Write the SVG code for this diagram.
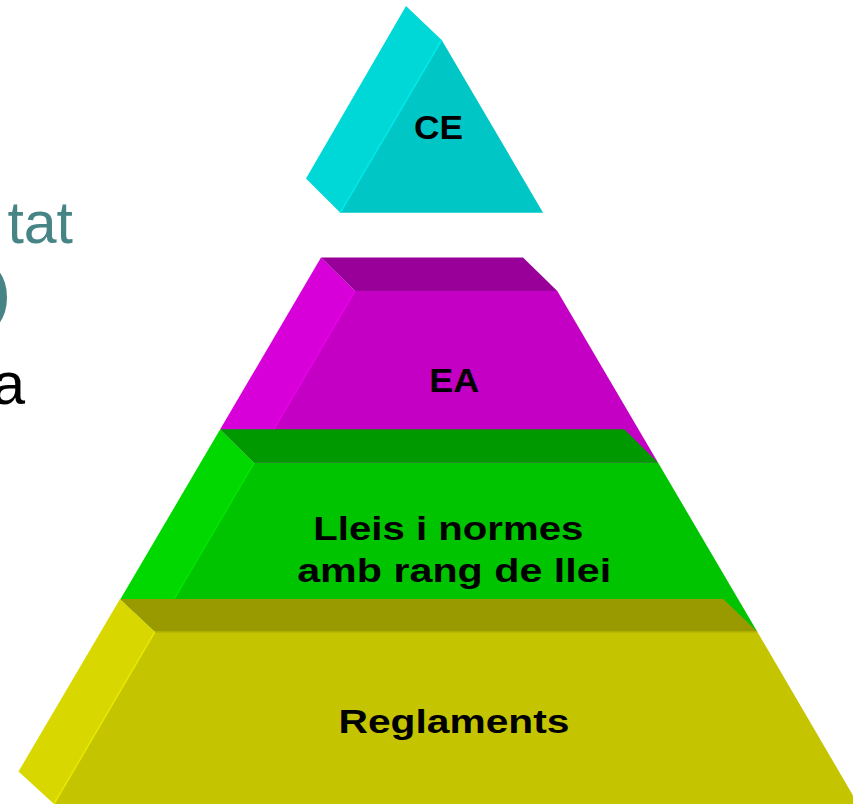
<svg xmlns="http://www.w3.org/2000/svg" width="853" height="804" viewBox="0 0 853 804">
<style>
.lbl{font-family:"Liberation Sans",Arial,sans-serif;font-weight:bold;font-size:34px;fill:#000;text-anchor:middle}
.bg{font-family:"Liberation Sans",Arial,sans-serif;font-size:59px;text-anchor:end}
.edge{fill:none;stroke-width:1.5}
</style>
<rect width="853" height="804" fill="#ffffff"/>
<g id="slide-text">
<text class="bg" x="73" y="243" fill="#478485">tat</text>
<text class="bg" x="10" y="313" fill="#478485" font-size="62" font-weight="bold">)</text>
<text class="bg" x="25" y="404" fill="#000000" font-size="66">a</text>
</g>
<g id="CE">
<polygon points="406,6 441.7,40 340.3,212.7 306,178.5" fill="#00D8D8"/>
<polygon points="441.7,40 543.1,212.7 340.3,212.7" fill="#00C6C6"/>
<line class="edge" x1="441.7" y1="40" x2="340.3" y2="212.7" stroke="#00E8E8"/>
<text class="lbl" x="438.5" y="139" textLength="49" lengthAdjust="spacingAndGlyphs">CE</text>
</g>
<g id="EA">
<polygon points="355,291 557.3,291 658.1,462.7 254.2,462.7" fill="#C400C4"/>
<polygon points="321,257.5 355,291 254.2,462.7 220.2,429.2" fill="#D800D8"/>
<polygon points="321,257.5 523,257.5 557.3,291 355,291" fill="#990099"/>
<line class="edge" x1="355" y1="291" x2="254.2" y2="462.7" stroke="#E600E6"/>
<text class="lbl" x="454.2" y="391.5" textLength="50" lengthAdjust="spacingAndGlyphs">EA</text>
</g>
<g id="Lleis">
<polygon points="254.2,462.7 658.1,462.7 757.3,631.7 155,631.7" fill="#00C400"/>
<polygon points="220.2,429.3 254.2,462.7 155,631.7 120.5,599" fill="#00D800"/>
<polygon points="220.2,429.3 624.3,429.3 658.1,462.7 254.2,462.7" fill="#009900"/>
<line class="edge" x1="254.2" y1="462.7" x2="155" y2="631.7" stroke="#00E600"/>
<text class="lbl" x="448.3" y="539.5" textLength="270" lengthAdjust="spacingAndGlyphs">Lleis i normes</text>
<text class="lbl" x="454.2" y="581.5" textLength="314" lengthAdjust="spacingAndGlyphs">amb rang de llei</text>
</g>
<g id="Reglaments">
<polygon points="155,631.7 757.3,631.7 858,804 54,804" fill="#C4C400"/>
<polygon points="120,599 155,631.7 54,804 18.5,771.5" fill="#D8D800"/>
<polygon points="120,599 723.3,599 757.3,631.7 155,631.7" fill="#999900"/>
<line class="edge" x1="155" y1="631.7" x2="54" y2="804" stroke="#E8E800"/>
<line class="edge" x1="155" y1="632" x2="757" y2="632" stroke="#B4B400"/>
<text class="lbl" x="454" y="733" textLength="231" lengthAdjust="spacingAndGlyphs">Reglaments</text>
</g>
<g id="connectors"/>
</svg>
